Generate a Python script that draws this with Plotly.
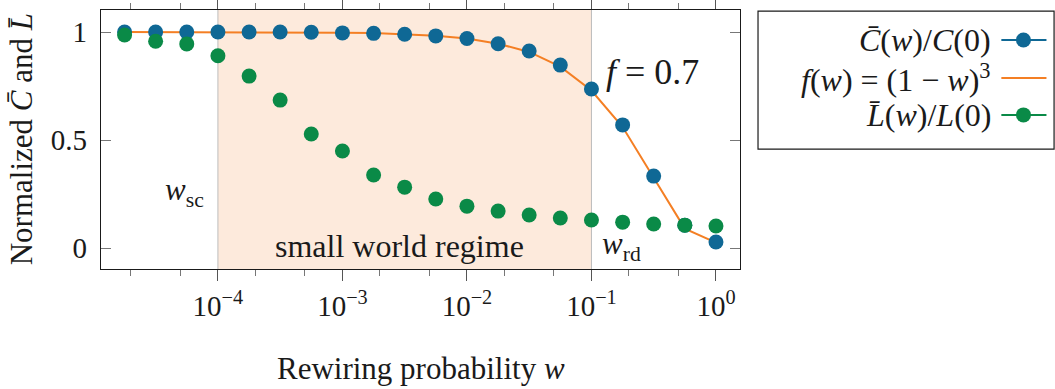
import plotly.graph_objects as go

# ---------------- data ----------------
w = [1.78e-5, 3.16e-5, 5.62e-5, 1.0e-4, 1.78e-4, 3.16e-4, 5.62e-4, 1.0e-3, 1.78e-3, 3.16e-3,
     5.62e-3, 1.0e-2, 1.78e-2, 3.16e-2, 5.62e-2, 1.0e-1, 1.78e-1, 3.16e-1, 5.62e-1, 1.0]
C_norm = [1.0, 1.0, 1.0, 1.0, 1.0, 1.0, 0.999, 0.996, 0.994, 0.99,
          0.982, 0.97, 0.946, 0.912, 0.847, 0.736, 0.57, 0.333, 0.106, 0.028]
f_vals = [1.0, 1.0, 1.0, 1.0, 1.0, 0.999, 0.998, 0.997, 0.995, 0.99,
          0.983, 0.97, 0.946, 0.908, 0.84, 0.729, 0.56, 0.325, 0.09, 0.025]
L_norm = [0.986, 0.957, 0.945, 0.89, 0.796, 0.685, 0.528, 0.449, 0.338, 0.282,
          0.227, 0.194, 0.171, 0.153, 0.139, 0.130, 0.120, 0.111, 0.106, 0.102]
xtick_vals = [1e-4, 1e-3, 1e-2, 1e-1, 1.0]
xtick_text = ["10<sup>−4</sup>", "10<sup>−3</sup>", "10<sup>−2</sup>", "10<sup>−1</sup>", "10<sup>0</sup>"]
ytick_vals = [0, 0.5, 1]
ytick_text = ["0", "0.5", "1"]
regime = [1e-4, 1e-1]

BLUE = "#0f6895"
ORANGE = "#f47f24"
GREEN = "#0a8a47"
PEACH = "#fdeadc"
FONT = "Liberation Serif"
TXT = "#1a1a1a"

fig = go.Figure()
fig.add_trace(go.Scatter(x=w, y=f_vals, mode="lines", line=dict(color=ORANGE, width=2),
                         showlegend=False, hoverinfo="skip"))
fig.add_trace(go.Scatter(x=w, y=C_norm, mode="markers", marker=dict(color=BLUE, size=15),
                         showlegend=False))
fig.add_trace(go.Scatter(x=w, y=L_norm, mode="markers", marker=dict(color=GREEN, size=15),
                         showlegend=False))

# shaded small-world regime
fig.add_shape(type="rect", xref="x", yref="paper", x0=regime[0], x1=regime[1], y0=0, y1=1,
              fillcolor=PEACH, line=dict(width=0), layer="below")
for xv in regime:
    fig.add_shape(type="line", xref="x", yref="paper", x0=xv, x1=xv, y0=0, y1=1,
                  line=dict(color="#bdbdbd", width=1), layer="below")

# annotations inside plot (annotation x on log axis in log10 units)
fig.add_annotation(x=-4.265, y=0.26, xref="x", yref="y", showarrow=False,
                   text="<i>w</i><sub>sc</sub>", font=dict(family=FONT, size=31, color=TXT))
fig.add_annotation(x=-2.54, y=0.01, xref="x", yref="y", showarrow=False,
                   text="small world regime", font=dict(family=FONT, size=32, color=TXT))
fig.add_annotation(x=-0.76, y=0.01, xref="x", yref="y", showarrow=False,
                   text="<i>w</i><sub>rd</sub>", font=dict(family=FONT, size=31, color=TXT))
fig.add_annotation(x=-0.51, y=0.815, xref="x", yref="y", showarrow=False,
                   text="<i>f</i> = 0.7", font=dict(family=FONT, size=36, color=TXT))

# axis titles
fig.add_annotation(x=0.5, y=-0.386, xref="paper", yref="paper", showarrow=False,
                   xanchor="center", yanchor="middle",
                   text="Rewiring probability <i>w</i>", font=dict(family=FONT, size=31, color=TXT))
fig.add_annotation(x=-0.124, y=0.5, xref="paper", yref="paper", showarrow=False, textangle=-90,
                   xanchor="center", yanchor="middle",
                   text="Normalized <i>C\u0304</i> and <i>L\u0304</i>",
                   font=dict(family=FONT, size=31, color=TXT))

# custom legend (box, text right-aligned, sample on right)
fig.add_shape(type="rect", xref="paper", yref="paper", x0=1.0282, x1=1.4915, y0=0.463, y1=0.996,
              line=dict(color=TXT, width=1.2), fillcolor="white")
legend_rows = [
    ("<i>C\u0304</i>(<i>w</i>)/<i>C</i>(0)", BLUE, True, 0.884),
    ("<i>f</i>(<i>w</i>) = (1 − <i>w</i>)<sup>3</sup>", ORANGE, False, 0.737),
    ("<i>L\u0304</i>(<i>w</i>)/<i>L</i>(0)", GREEN, True, 0.595),
]
for text, col, mk, yy in legend_rows:
    fig.add_annotation(x=1.3966, y=yy, xref="paper", yref="paper", showarrow=False,
                       xanchor="right", yanchor="middle", text=text,
                       font=dict(family=FONT, size=32, color=TXT))
    fig.add_shape(type="line", xref="paper", yref="paper", x0=1.409, x1=1.4796, y0=yy, y1=yy,
                  line=dict(color=col, width=2))
    if mk:
        cx = 1.4436
        fig.add_shape(type="circle", xref="paper", yref="paper",
                      x0=cx - 0.0118, x1=cx + 0.0118, y0=yy - 0.029, y1=yy + 0.029,
                      fillcolor=col, line=dict(width=0))

fig.update_xaxes(type="log", range=[-4.939, 0.193], tickvals=xtick_vals, ticktext=xtick_text,
                 ticks="outside", ticklen=11, tickcolor="#555", tickwidth=1,
                 minor=dict(ticks="outside", ticklen=6, tickcolor="#777", tickwidth=1, showgrid=False),
                 showline=True, linecolor=TXT, linewidth=1.2, mirror="ticks",
                 showgrid=False, zeroline=False,
                 tickfont=dict(family=FONT, size=29, color=TXT))
fig.update_yaxes(range=[-0.097, 1.102], tickvals=ytick_vals, ticktext=ytick_text,
                 ticks="inside", ticklen=10, tickcolor="#777", tickwidth=1,
                 ticklabelstandoff=7,
                 showline=True, linecolor=TXT, linewidth=1.2, mirror="ticks",
                 showgrid=False, zeroline=False,
                 tickfont=dict(family=FONT, size=29, color=TXT))

fig.update_layout(width=1055, height=389,
                  margin=dict(l=101, r=315, t=10, b=120, autoexpand=False),
                  plot_bgcolor="white", paper_bgcolor="white", showlegend=False)

fig.write_html("out.html", config={"displayModeBar": False},
               post_script="document.body.style.margin='0px';document.body.style.overflow='hidden';")
